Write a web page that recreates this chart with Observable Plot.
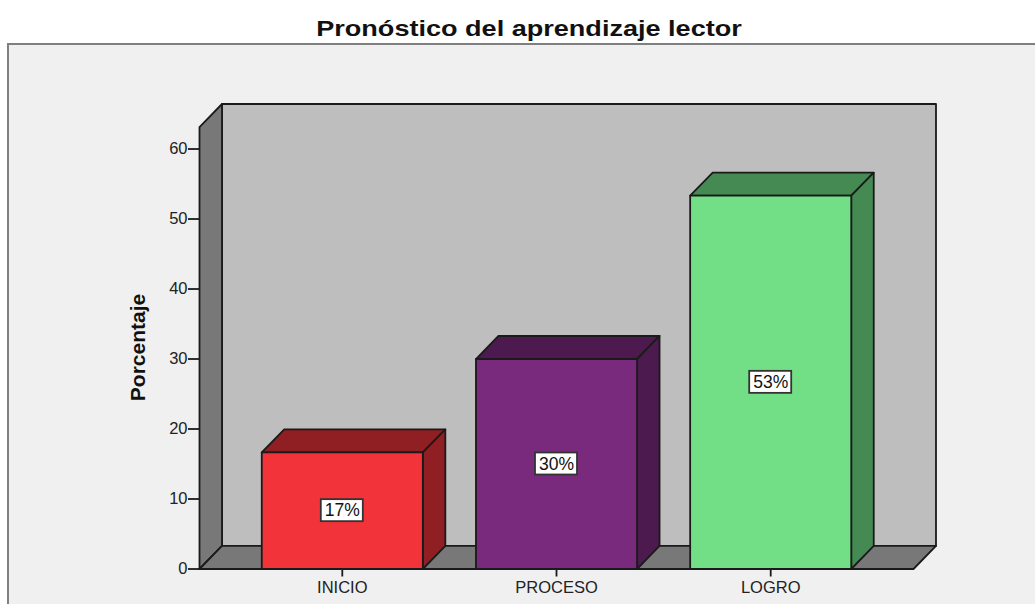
<!DOCTYPE html>
<html lang="es">
<head>
<meta charset="utf-8">
<script src="https://cdn.jsdelivr.net/npm/d3@7"></script>
<script src="https://cdn.jsdelivr.net/npm/@observablehq/plot@0.6"></script>
<style>
html,body{margin:0;padding:0;background:#fff;overflow:hidden;width:1035px;height:604px}
#title{position:absolute;left:0;top:15px;width:1058px;text-align:center;font:bold 22px "Liberation Sans",Arial,sans-serif;color:#111;line-height:28px;transform:scaleX(1.23)}
#panel{position:absolute;left:7px;top:43px;right:0;bottom:0;background:#f0f0f0;border-left:2px solid #7f7f7f;border-top:2px solid #7f7f7f}
#chart{position:absolute;left:-1px;top:44px}
#chart svg{background:transparent;display:block}
</style>
</head>
<body>
<div id="title">Pronóstico del aprendizaje lector</div>
<div id="panel"></div>
<div id="chart"></div>
<script>
const categories = ["INICIO", "PROCESO", "LOGRO"];
const values = [16.67, 30, 53.33];
const labels = ["17%", "30%", "53%"];
const frontColors = ["#f2333a", "#7a2a7c", "#72de85"];
const sideColors = ["#8f1f22", "#4c1a4e", "#458a52"];
const yTicks = [0, 10, 20, 30, 40, 50, 60];

const wallColor = "#bebebe", shadeColor = "#787878", ink = "#1a1a1a";
// Chart-box extents and depth of the 3D projection, in scale units
const xLo = -2 / 3, xHi = 2 + 2 / 3, yTop = 63.14, dX = 0.105, dY = 3.29, half = 0.376;

const face = (pts, fill) => Plot.line(pts.concat([pts[0]]), {
  x: d => d[0], y: d => d[1], fill, stroke: ink, strokeWidth: 1.8, strokeLinejoin: "round"
});

const marks = [
  face([[xLo + dX, dY], [xHi + dX, dY], [xHi + dX, yTop + dY], [xLo + dX, yTop + dY]], wallColor),
  face([[xLo, 0], [xLo + dX, dY], [xLo + dX, yTop + dY], [xLo, yTop]], shadeColor),
  face([[xLo, 0], [xHi, 0], [xHi + dX, dY], [xLo + dX, dY]], shadeColor)
];

categories.forEach((c, i) => {
  const v = values[i], a = i - half, b = i + half;
  marks.push(
    face([[a, v], [b, v], [b + dX, v + dY], [a + dX, v + dY]], sideColors[i]),
    face([[b, 0], [b + dX, dY], [b + dX, v + dY], [b, v]], sideColors[i]),
    face([[a, 0], [b, 0], [b, v], [a, v]], frontColors[i])
  );
});

const table = categories.map((c, i) => ({i, mid: values[i] / 2, label: labels[i]}));

marks.push(
  Plot.rect(table, {x1: "i", x2: "i", y1: "mid", y2: "mid", insetLeft: -21, insetRight: -21, insetTop: -11, insetBottom: -11,
    fill: "#fff", stroke: "#333", strokeWidth: 1.8}),
  Plot.text(table, {x: "i", y: "mid", text: "label", fontSize: 17.5, fill: "#111", fontFamily: "Liberation Sans"}),
  Plot.axisY({ticks: yTicks, tickSize: 11, tickPadding: 1, tickFormat: d => d, label: null, anchor: "left",
    fontSize: 16.5, stroke: ink, strokeWidth: 1.8, fill: "#222", fontFamily: "Liberation Sans"}),
  Plot.axisX({ticks: [0, 1, 2], tickSize: 8, tickPadding: 4, tickFormat: d => categories[d], label: null, anchor: "bottom",
    fontSize: 16.5, stroke: ink, strokeWidth: 1.8, fill: "#222", fontFamily: "Liberation Sans"}),
  Plot.text(["Porcentaje"], {frameAnchor: "left", textAnchor: "middle", rotate: -90, dx: -61, dy: 11, fontSize: 21, fontWeight: "bold",
    fill: "#111", fontFamily: "Liberation Sans"})
);

const chart = Plot.plot({
  width: 1035, height: 560,
  marginLeft: 200, marginRight: 98.5, marginTop: 59.5, marginBottom: 35.5,
  x: {type: "linear", domain: [xLo, xHi + dX]},
  y: {type: "linear", domain: [0, yTop + dY]},
  style: {background: "transparent", overflow: "visible"},
  marks
});
document.getElementById("chart").appendChild(chart);
</script>
</body>
</html>
